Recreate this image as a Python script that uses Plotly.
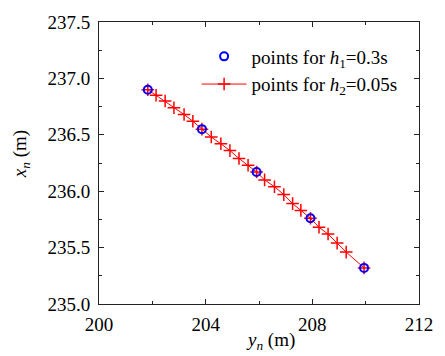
import plotly.graph_objects as go

# Coarse step (h1 = 0.3 s) positions
y_coarse = [201.83, 203.86, 205.91, 207.93, 209.94]
x_coarse = [236.90, 236.55, 236.17, 235.76, 235.32]

# Fine step (h2 = 0.05 s) positions
y_fine = [201.83, 202.14, 202.48, 202.81, 203.19, 203.52,
          203.86, 204.21, 204.57, 204.91, 205.25, 205.59,
          205.91, 206.21, 206.58, 206.93, 207.26, 207.57,
          207.93, 208.25, 208.59, 208.93, 209.27,
          209.94]
x_fine = [236.90, 236.85, 236.80, 236.74, 236.68, 236.62,
          236.55, 236.48, 236.42, 236.36, 236.29, 236.23,
          236.17, 236.10, 236.04, 235.97, 235.89, 235.83,
          235.76, 235.68, 235.62, 235.54, 235.46,
          235.32]

x_ticks = [200, 204, 208, 212]
y_ticks = [235.0, 235.5, 236.0, 236.5, 237.0, 237.5]

FONT = "Times New Roman"
FS = 19

fig = go.Figure()

fig.add_trace(go.Scatter(
    x=y_fine, y=x_fine, mode="lines+markers",
    name="points for <i>h</i><sub>2</sub>=0.05s",
    line=dict(color="#ff0000", width=1),
    marker=dict(symbol="cross-thin", size=9, line=dict(color="#ff0000", width=1.5)),
    legendrank=2, legendgroup="b",
))
fig.add_trace(go.Scatter(
    x=y_coarse, y=x_coarse, mode="markers",
    name="points for <i>h</i><sub>1</sub>=0.3s",
    marker=dict(symbol="circle-open", size=8, color="#0000ff", line=dict(color="#0000ff", width=2)),
    legendrank=1, legendgroup="a",
))

axis_common = dict(
    showline=True, linecolor="#222", linewidth=1, mirror="allticks",
    ticks="inside", ticklen=5, tickwidth=1, tickcolor="#222",
    showgrid=False, zeroline=False,
    tickfont=dict(family=FONT, size=FS, color="black"),
)

fig.update_xaxes(
    range=[200, 212], tickvals=x_ticks, ticktext=[str(v) for v in x_ticks],
    minor=dict(dtick=2, ticks="inside", ticklen=3, tickcolor="#222", showgrid=False),
    ticklabelstandoff=3,
    **axis_common,
)
fig.update_yaxes(
    range=[235.0, 237.5], tickvals=y_ticks, ticktext=[f"{v:.1f}" for v in y_ticks],
    minor=dict(dtick=0.25, ticks="inside", ticklen=3, tickcolor="#222", showgrid=False),
    ticklabelstandoff=4,
    **axis_common,
)

fig.add_annotation(
    text="<i>y</i><sub><i>n</i></sub> (m)", xref="paper", yref="paper",
    x=0.537, y=-0.083, xanchor="center", yanchor="top", showarrow=False,
    font=dict(family=FONT, size=FS, color="black"),
)
fig.add_annotation(
    text="<i>x</i><sub><i>n</i></sub> (m)", xref="paper", yref="paper",
    x=-0.245, y=0.53, xanchor="center", yanchor="middle", showarrow=False,
    textangle=-90, font=dict(family=FONT, size=FS, color="black"),
)

fig.update_layout(
    width=445, height=356,
    margin=dict(l=99, r=22, t=15, b=52),
    paper_bgcolor="white", plot_bgcolor="white",
    font=dict(family=FONT, size=FS, color="black"),
    showlegend=True,
    legend=dict(
        x=0.305, y=0.945, xanchor="left", yanchor="top",
        bgcolor="rgba(0,0,0,0)", traceorder="grouped", tracegroupgap=0,
        itemwidth=45,
        font=dict(family=FONT, size=FS, color="black"),
    ),
)

fig.write_html("out.html")
